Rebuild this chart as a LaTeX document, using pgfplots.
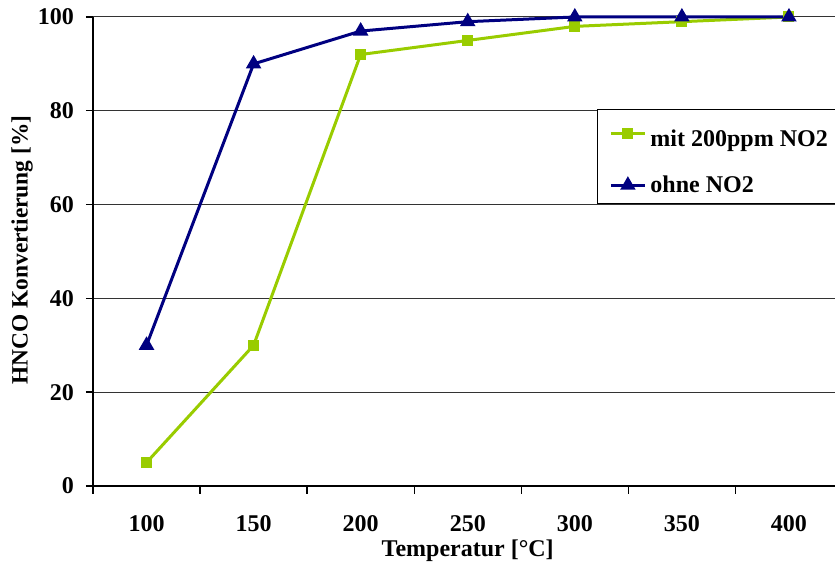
\documentclass[border=0pt]{standalone}
\usepackage{fontspec}
\setmainfont{Liberation Serif}
\usepackage{pgfplots}
\pgfplotsset{compat=1.18}
\definecolor{limeg}{HTML}{99CC00}
\definecolor{navyb}{HTML}{000080}
\begin{document}
\begin{tikzpicture}
\begin{axis}[
  name=ax, at={(0,0)}, anchor=south west,
  scale only axis, width=371pt, height=234.5pt,
  xmin=-0.5, xmax=6.43, ymin=0, ymax=100,
  clip=false,
  axis x line=bottom, axis y line=left,
  axis line style={-, line width=0.7pt, black},
  font=\fontsize{12}{14}\selectfont\bfseries,
  /pgf/number format/assume math mode=true,
  tick align=outside,
  xtick={0,1,2,3,4,5,6},
  xticklabels={100,150,200,250,300,350,400},
  major x tick style={draw=none},
  minor xtick={-0.5,0.5,1.5,2.5,3.5,4.5,5.5},
  minor x tick style={black, line width=0.7pt},
  minor tick length=4pt,
  major tick length=3.5pt,
  ytick={0,20,40,60,80,100},
  y tick style={black, line width=0.7pt},
  ymajorgrids,
  grid style={black!80, line width=0.5pt},
  xticklabel style={font=\fontsize{12}{14}\selectfont\bfseries, yshift=-7.5pt},
  yticklabel style={font=\fontsize{12}{14}\selectfont\bfseries, xshift=-2.5pt},
  xlabel={Temperatur [°C]},
  ylabel={HNCO Konvertierung [\%]},
  xlabel style={at={(axis description cs:0.505,-0.1386)}, anchor=center},
  ylabel style={at={(axis description cs:-0.0957,0.503)}, anchor=center, rotate=0, font=\fontsize{11.7}{14}\selectfont\bfseries},
  legend style={at={(axis description cs:0.679,0.804)}, anchor=north west,
    draw=black, line width=0.5pt, inner xsep=6pt, inner ysep=2pt,
    row sep=9pt, font=\fontsize{12}{14}\selectfont\bfseries},
  legend cell align=left,
]
\addplot[color=limeg, line width=1.5pt, mark=square*, mark size=2pt, mark options={solid}]
  coordinates {(0,5) (1,30) (2,92) (3,95) (4,98) (5,99) (6,100)};
\addlegendentry{\rule{0pt}{14.5pt}\makebox[110pt][l]{mit 200ppm NO2}}
\addplot[color=navyb, line width=1.5pt, mark=triangle*, mark size=3pt, mark options={solid}]
  coordinates {(0,30) (1,90) (2,97) (3,99) (4,100) (5,100) (6,100)};
\addlegendentry{\makebox[110pt][l]{ohne NO2}}
\end{axis}
\pgfresetboundingbox
\useasboundingbox (-46.5pt,-40pt) rectangle (371pt,243pt);
\end{tikzpicture}
\end{document}
